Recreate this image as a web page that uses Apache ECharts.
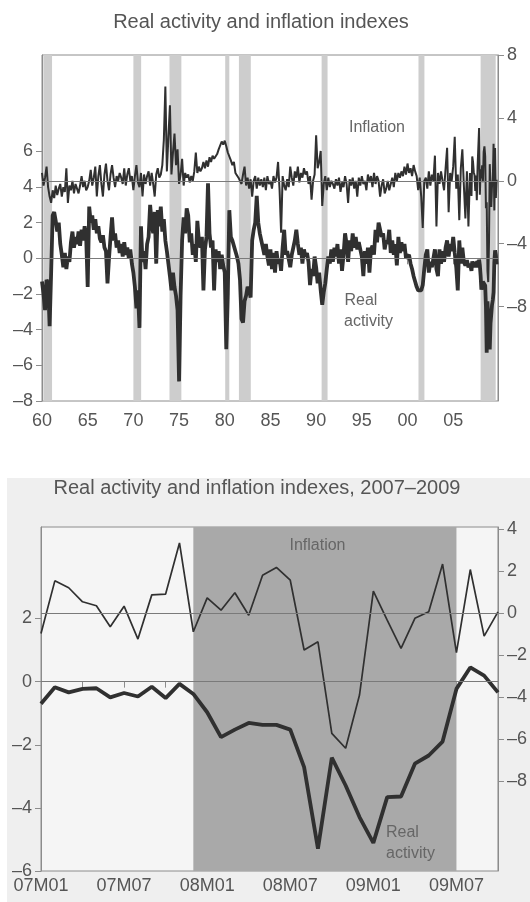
<!DOCTYPE html>
<html><head><meta charset="utf-8">
<script src="https://cdn.jsdelivr.net/npm/echarts@6/dist/echarts.min.js"></script>
<style>html,body{margin:0;padding:0;background:#fff}#c{width:530px;height:902px}</style>
</head><body><div id="c"></div>
<script>
// ---------- DATA ----------
const topStartYear = 1960;
const topStepsPerYear = 6; // bimonthly readings, 1960.0 .. 2006.83
const topReal = [
 -1.3,-2.0,-2.9,-1.2,-1.4,-3.8,
 -0.8,2.4,2.6,2.1,1.5,2.0,
 0.8,0.2,-0.5,0.3,-0.6,0.1,
 -0.2,0.9,1.5,0.6,1.2,0.8,
 1.5,0.7,1.6,1.0,1.8,1.2,
 -1.6,2.9,2.0,2.4,1.6,2.2,
 1.4,1.8,1.1,0.9,1.3,0.6,
 0.4,-1.4,0.0,1.2,2.3,1.0,
 1.4,0.6,1.0,0.3,0.8,0.1,
 0.9,0.2,0.6,0.0,0.5,-0.3,
 -0.8,-1.6,-2.8,-1.8,-3.9,1.8,
 -0.2,0.4,-0.6,0.8,1.2,3.0,
 2.0,1.4,2.6,-0.3,2.7,1.8,
 2.9,1.5,2.2,1.0,0.4,-0.3,
 -1.0,-1.8,-0.8,-1.6,-2.1,-2.9,
 -6.9,-2.1,1.0,2.3,1.4,2.8,
 2.4,0.9,1.4,0.2,0.8,-0.2,
 2.1,1.0,0.6,1.2,-1.8,0.5,
 1.2,4.2,1.4,0.6,1.0,-1.8,
 0.5,-0.2,0.4,-0.6,0.2,-0.4,
 -0.8,-5.1,-2.0,2.7,1.2,1.0,
 1.0,0.4,0.1,-0.3,-1.2,-3.4,
 -3.6,-2.4,-2.1,-1.6,-1.8,-2.2,
 1.0,1.6,2.0,3.5,2.0,1.4,
 1.0,0.6,0.2,0.8,0.1,-0.4,
 0.5,-0.6,0.3,-0.8,0.4,-0.3,
 0.0,-0.7,0.6,1.6,0.2,0.4,
 0.5,-0.5,0.2,0.6,1.0,1.6,
 0.8,0.2,0.6,-0.3,0.5,0.1,
 0.3,-0.2,-1.5,-0.6,-1.0,0.1,
 -0.5,-1.4,-0.8,-1.8,-2.6,-1.9,
 -1.4,-0.6,0.1,-0.3,0.5,-0.2,
 0.6,0.1,0.8,-0.3,0.5,-0.7,
 0.2,1.4,0.8,-0.2,1.0,0.4,
 1.4,0.6,1.2,0.5,0.9,1.0,
 0.1,-1.0,0.4,-0.3,0.6,-0.8,
 0.5,0.7,0.2,1.6,0.9,2.0,
 2.05,1.2,1.4,0.5,1.0,0.8,
 1.6,0.3,1.0,0.2,0.8,-0.4,
 1.2,0.3,0.9,0.4,0.8,0.0,
 -0.1,0.2,-0.3,-0.6,-1.0,-1.3,
 -1.6,-1.8,-1.7,-1.8,-1.5,-0.6,
 0.2,0.5,-0.8,-0.2,-0.5,0.0,
 0.5,-0.6,-1.0,0.5,-0.3,0.4,
 -0.2,0.6,1.0,0.1,0.8,0.4,
 1.2,0.3,-0.5,-1.8,1.0,-0.3,
 0.6,-0.2,-0.4,-0.1,-0.5,-0.3
];
const topInfl = [
 0.5,-0.3,0.2,0.9,-0.4,-1.0,
 -1.4,-0.6,-1.1,-0.3,-0.9,-0.5,
 -0.2,-1.0,-0.4,-0.7,0.8,-1.4,
 -0.3,-0.6,0.0,-0.8,-0.2,-0.5,
 -0.8,-0.3,0.3,-0.4,0.0,-0.6,
 -0.4,0.0,0.7,-0.3,0.2,0.9,
 -1.0,0.3,1.0,-0.2,-1.0,0.4,
 1.1,0.0,-0.6,0.4,1.0,0.2,
 -0.4,0.3,0.0,0.5,0.2,-0.2,
 0.8,-0.3,0.4,0.8,0.0,0.3,
 -0.6,0.3,1.0,-0.1,-0.4,0.5,
 -1.0,0.4,-0.2,0.3,0.6,-0.3,
 0.5,-0.2,-1.0,0.4,0.8,0.2,
 0.4,1.0,2.6,6.0,0.6,2.8,
 4.8,0.4,1.8,3.0,1.0,2.0,
 -0.2,0.4,1.4,-0.3,0.5,0.2,
 0.4,-0.1,0.3,0.0,0.6,1.8,
 0.5,0.9,0.6,0.8,1.2,0.8,
 1.3,0.9,1.5,1.2,1.6,1.4,
 1.5,1.7,2.0,2.1,2.5,2.3,
 2.55,2.2,1.8,1.9,1.3,1.0,
 1.2,0.5,0.6,0.2,0.1,-0.2,
 0.4,0.9,-0.3,0.2,-0.5,0.1,
 -1.0,0.0,0.3,-0.5,0.2,-0.3,
 0.1,-0.4,0.2,-0.6,0.3,-0.2,
 0.0,-0.5,0.3,-0.1,0.2,1.2,
 -0.6,-3.3,0.3,-0.3,-0.6,0.1,
 -0.4,0.9,0.2,-0.3,0.6,0.2,
 0.9,-0.1,0.5,0.2,0.8,0.4,
 0.6,-0.2,0.3,-1.2,0.0,0.4,
 2.9,0.8,1.2,1.9,-1.6,-0.2,
 0.3,-0.6,0.2,-0.4,0.0,-0.2,
 -0.5,0.1,-0.3,0.2,-0.7,-0.1,
 -0.4,0.3,-0.2,-1.4,0.1,-0.3,
 0.2,-0.5,0.0,-1.0,0.2,-0.3,
 0.3,-0.2,0.0,-0.6,0.4,-0.1,
 0.3,-0.4,0.5,-0.2,0.3,0.0,
 -1.0,-0.3,0.1,-0.8,-0.5,0.0,
 -0.6,-0.2,0.2,-0.4,0.5,0.0,
 0.5,0.2,0.6,0.3,0.9,0.4,
 1.1,0.5,0.8,0.3,1.0,0.6,
 0.3,-0.6,0.2,-1.0,-3.0,0.0,
 0.2,-0.5,0.6,-0.3,0.4,0.0,
 1.6,-2.9,0.5,-0.2,0.6,0.0,
 -0.6,0.8,2.1,-2.0,0.5,0.0,
 0.9,2.8,-0.5,0.4,-2.5,0.8,
 2.0,-0.3,-2.4,0.6,-2.9,0.5
];
const recentStartYear = 2007;
const recentMonths = ['07M01','07M02','07M03','07M04','07M05','07M06','07M07','07M08','07M09','07M10','07M11','07M12',
 '08M01','08M02','08M03','08M04','08M05','08M06','08M07','08M08','08M09','08M10','08M11','08M12',
 '09M01','09M02','09M03','09M04','09M05','09M06','09M07','09M08','09M09','09M10'];
const recentReal = [-0.70,-0.18,-0.34,-0.23,-0.21,-0.50,-0.36,-0.47,-0.16,-0.52,-0.07,-0.39,
 -0.97,-1.76,-1.52,-1.31,-1.37,-1.37,-1.52,-2.71,-5.29,-2.41,-3.29,-4.29,
 -5.11,-3.66,-3.64,-2.60,-2.34,-1.90,-0.23,0.45,0.19,-0.34];
const recentInfl = [-0.96,1.55,1.22,0.55,0.36,-0.64,0.34,-1.23,0.88,0.92,3.36,-0.88,
 0.74,0.15,0.98,-0.09,1.82,2.19,1.58,-1.75,-1.36,-5.73,-6.44,-3.90,
 1.06,-0.33,-1.67,-0.24,0.07,2.35,-1.88,2.09,-1.09,0.07];
const recessions = [[1960.15,1961.1],[1970.0,1970.85],[1973.95,1975.25],[1980.05,1980.5],
 [1981.55,1982.85],[1990.6,1991.25],[2001.2,2001.85],[2008.0,2009.65]];
const recentShade = [11, 30]; // 07M12 .. 09M07 (month index)
const topXTicks = [1960,1965,1970,1975,1980,1985,1990,1995,2000,2005];
const topLeftTicks = [-8,-6,-4,-2,0,2,4,6];
const topRightTicks = [-8,-4,0,4,8];
const botXTicks = [0,3,6,9,12,15,18,21,24,27,30,33];
const botXLabels = [0,6,12,18,24,30];
const botLeftTicks = [-6,-4,-2,0,2];
const botRightTicks = [-8,-6,-4,-2,0,2,4];

// ---------- CHART ----------
const FONT = '"Liberation Sans", Arial, Helvetica, sans-serif';
const TXT = '#555', AX = '#8c8c8c', LINE = '#303030';
const neg = v => (v < 0 ? '\u2013' + Math.abs(v) : String(v));

const topRealData = topReal.map((v,i)=>[topStartYear + i/topStepsPerYear, v])
  .concat(recentReal.map((v,m)=>[recentStartYear + m/12, v]));
const topInflData = topInfl.map((v,i)=>[topStartYear + i/topStepsPerYear, v])
  .concat(recentInfl.map((v,m)=>[recentStartYear + m/12, v]));
const botRealData = recentReal.map((v,m)=>[m, v]);
const botInflData = recentInfl.map((v,m)=>[m, v]);

function yAx(grid, pos, min, max, ticks){
  return {gridIndex:grid, type:'value', position:pos, min:min, max:max,
    axisLine:{show:true, lineStyle:{color:AX, width:1}},
    axisTick:{show:true, length:6, lineStyle:{color:AX}, customValues:ticks},
    axisLabel:{show:true, customValues:ticks, formatter:neg, color:TXT, fontSize:18, fontFamily:FONT, margin:9},
    splitLine:{show:false}};
}
const zeroLine = {silent:true, symbol:'none', label:{show:false}, lineStyle:{color:'#7a7a7a', width:1, type:'solid'}, data:[{yAxis:0}]};

const option = {
  backgroundColor:'#fff',
  animation:false,
  grid:[
    {left:42, top:55, width:457, height:346, show:true, borderColor:AX, borderWidth:1, backgroundColor:'#fff'},
    {left:41, top:527, width:458, height:344, show:true, borderColor:AX, borderWidth:1, backgroundColor:'#f5f5f5'}
  ],
  xAxis:[
    {gridIndex:0, type:'value', min:1960, max:2009.9, interval:5,
     axisLine:{show:true, lineStyle:{color:AX}},
     axisTick:{show:true, length:6, lineStyle:{color:AX}, customValues:topXTicks},
     axisLabel:{customValues:topXTicks, formatter:v=>String(v%100).padStart(2,'0'), color:TXT, fontSize:18, fontFamily:FONT, margin:11},
     splitLine:{show:false}},
    {gridIndex:1, type:'value', min:0, max:33, interval:3,
     axisLine:{show:true, lineStyle:{color:AX}},
     axisTick:{show:true, length:6, lineStyle:{color:AX}, customValues:botXTicks},
     axisLabel:{customValues:botXLabels, formatter:v=>recentMonths[v]||'', color:TXT, fontSize:18, fontFamily:FONT, margin:6},
     splitLine:{show:false}}
  ],
  yAxis:[
    yAx(0,'left',-8,11.4,topLeftTicks),
    yAx(0,'right',-14,8,topRightTicks),
    yAx(1,'left',-6,4.9,botLeftTicks),
    yAx(1,'right',-12.3,4.12,botRightTicks)
  ],
  series:[
    {type:'line', xAxisIndex:0, yAxisIndex:0, data:[], z:1, silent:true,
     markArea:{silent:true, itemStyle:{color:'#cdcdcd'}, data:recessions.map(r=>[{xAxis:r[0]},{xAxis:r[1]}])}},
    {type:'line', xAxisIndex:0, yAxisIndex:1, data:topInflData, symbol:'none', z:3,
     lineStyle:{color:LINE, width:2}, markLine:zeroLine},
    {type:'line', xAxisIndex:0, yAxisIndex:0, data:topRealData, symbol:'none', z:4,
     lineStyle:{color:LINE, width:3.8}, markLine:zeroLine},
    {type:'line', xAxisIndex:1, yAxisIndex:2, data:[], z:1, silent:true,
     markArea:{silent:true, itemStyle:{color:'#a9a9a9'}, data:[[{xAxis:recentShade[0]},{xAxis:recentShade[1]}]]}},
    {type:'line', xAxisIndex:1, yAxisIndex:3, data:botInflData, symbol:'none', z:3,
     lineStyle:{color:LINE, width:1.7}, markLine:zeroLine},
    {type:'line', xAxisIndex:1, yAxisIndex:2, data:botRealData, symbol:'none', z:4,
     lineStyle:{color:LINE, width:3.8}, markLine:zeroLine}
  ],
  graphic:[
    {type:'rect', z:-10, silent:true, shape:{x:7, y:478, width:523, height:424}, style:{fill:'#efefef'}},
    {type:'text', silent:true, style:{text:'Real activity and inflation indexes', x:261, y:22.5, textAlign:'center', textVerticalAlign:'middle', font:'20px '+FONT, fill:TXT}},
    {type:'text', silent:true, style:{text:'Real activity and inflation indexes, 2007\u20132009', x:257, y:488.5, textAlign:'center', textVerticalAlign:'middle', font:'20px '+FONT, fill:TXT}},
    {type:'text', silent:true, z:10, style:{text:'Inflation', x:377, y:127.5, textAlign:'center', textVerticalAlign:'middle', font:'16px '+FONT, fill:'#666'}},
    {type:'text', silent:true, z:10, style:{text:'Real', x:344.5, y:300.5, textAlign:'left', textVerticalAlign:'middle', font:'16px '+FONT, fill:'#666'}},
    {type:'text', silent:true, z:10, style:{text:'activity', x:344, y:321.5, textAlign:'left', textVerticalAlign:'middle', font:'16px '+FONT, fill:'#666'}},
    {type:'text', silent:true, z:10, style:{text:'Inflation', x:317.5, y:546, textAlign:'center', textVerticalAlign:'middle', font:'16px '+FONT, fill:'#666'}},
    {type:'text', silent:true, z:10, style:{text:'Real', x:386, y:832.5, textAlign:'left', textVerticalAlign:'middle', font:'16px '+FONT, fill:'#666'}},
    {type:'text', silent:true, z:10, style:{text:'activity', x:386, y:853.5, textAlign:'left', textVerticalAlign:'middle', font:'16px '+FONT, fill:'#666'}}
  ]
};
const chart = echarts.init(document.getElementById('c'));
chart.setOption(option);
</script></body></html>
